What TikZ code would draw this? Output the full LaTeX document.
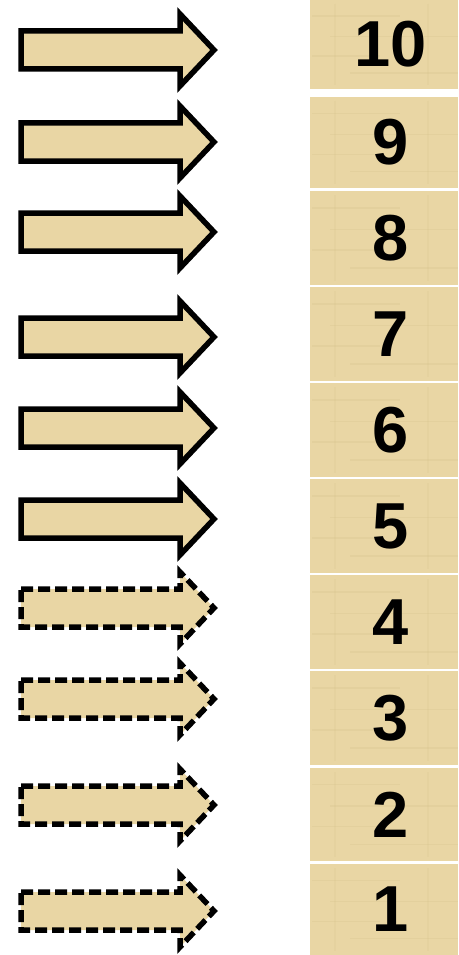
\documentclass[tikz,border=0pt]{standalone}
\usepackage{fontspec}
\setmainfont{Liberation Sans}
\usepackage{xcolor}
\usetikzlibrary{positioning}
\definecolor{papyrus}{RGB}{233,214,164}
\definecolor{papyrusdark}{RGB}{210,188,135}
\tikzset{
  tile/.style={fill=papyrus, draw=none, minimum width=148pt, inner sep=0pt, anchor=north west},
  grain/.style={papyrusdark, opacity=0.22, line width=1.5pt},
  solidarrow/.style={fill=papyrus, draw=black, line width=5.5pt, line join=miter, miter limit=12},
  dasharrow/.style={fill=papyrus, draw=black, line width=5.5pt, line join=miter, miter limit=12,
    dash pattern=on 12pt off 5pt}
}
\begin{document}
\begin{tikzpicture}[x=1pt, y=-1pt]
  \useasboundingbox (0,0) rectangle (458,955);
  \begin{scope}
  \clip (0,0) rectangle (458,955);
  % Numbered tiles
  \foreach \n/\top/\bot in {10/0/89, 9/97/188, 8/191/285, 7/287/381, 6/383/477,
                           5/479/573, 4/575/669, 3/671/765, 2/768/861, 1/864/955} {
    \node[tile, minimum height={\bot-\top}] (tile\n) at (310,\top) {};
    \foreach \f/\a/\b in {0.18/312/400, 0.41/330/458, 0.63/312/380, 0.82/350/458}
      \draw[grain] (\a,{\top+\f*(\bot-\top)}) -- (\b,{\top+\f*(\bot-\top)});
    \foreach \gx in {335, 428}
      \draw[grain, opacity=0.15] (\gx,\top+4) -- (\gx,\bot-4);
    \node[font=\fontsize{65}{65}\selectfont\bfseries, inner sep=0pt] (num\n) at (391,{(\top+\bot)/2}) {\n};
  }
  \end{scope}

  % Arrows
  \foreach \y/\sty in {50/solidarrow, 142/solidarrow, 232/solidarrow, 337/solidarrow,
                       428/solidarrow, 519/solidarrow, 608/dasharrow, 699/dasharrow,
                       805/dasharrow, 911/dasharrow}
    \draw[\sty] (21,\y-19) -- (180,\y-19) -- (180,\y-36) -- (214,\y)
      -- (180,\y+36) -- (180,\y+19) -- (21,\y+19) -- cycle;
\end{tikzpicture}
\end{document}
